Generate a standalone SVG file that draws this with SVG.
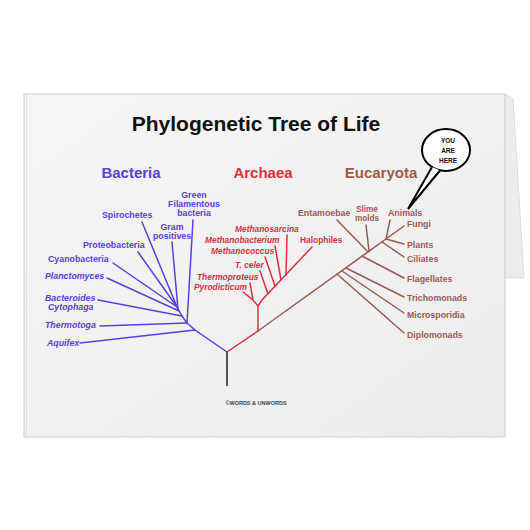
<svg xmlns="http://www.w3.org/2000/svg" width="530" height="530" viewBox="0 0 530 530">
<style>
text{font-family:"Liberation Sans",Arial,sans-serif;font-weight:bold}
.b{fill:#5a40e0;font-size:8.8px}
.r{fill:#e0303f;font-size:8.4px;font-style:italic}
.rn{fill:#e0303f;font-size:8.4px}
.e{fill:#9c5a55;font-size:8.8px}
.s{font-size:8.2px}
.i{font-style:italic}
.c{text-anchor:middle}
.lb{stroke:#5a40e0;stroke-width:1.5;fill:none;stroke-linecap:round}
.lr{stroke:#e0303f;stroke-width:1.5;fill:none;stroke-linecap:round}
.le{stroke:#9c5a55;stroke-width:1.5;fill:none;stroke-linecap:round}
</style>
<defs>
<linearGradient id="card" x1="0" y1="0" x2="1" y2="1">
<stop offset="0" stop-color="#f6f6f6"/>
<stop offset="1" stop-color="#ededed"/>
</linearGradient>
</defs>
<rect width="530" height="530" fill="#ffffff"/>
<polygon points="505,94 513,99 524,278 505,278" fill="#ececec" stroke="#dcdcdc" stroke-width="1"/>
<rect x="24" y="94" width="481" height="343" fill="url(#card)" stroke="#cbcbcb" stroke-width="1"/>
<line x1="26.5" y1="95" x2="26.5" y2="436" stroke="#e2e2e2" stroke-width="1"/>

<text x="256" y="131" font-size="21" class="c" fill="#111">Phylogenetic Tree of Life</text>
<text x="131" y="178" font-size="15" class="c" fill="#5a40e0">Bacteria</text>
<text x="263" y="178" font-size="15" class="c" fill="#e0303f">Archaea</text>
<text x="381" y="178" font-size="15" class="c" fill="#9c5a55">Eucaryota</text>

<g id="connectors">
<line x1="227" y1="352" x2="227" y2="386" stroke="#222" stroke-width="1.5"/>
<polyline class="lb" points="227,352 195,330 187,323 182,316 177,307"/>
<line class="lb" x1="195" y1="330" x2="80" y2="343"/>
<line class="lb" x1="187" y1="323" x2="100" y2="326"/>
<line class="lb" x1="187" y1="323" x2="193" y2="220"/>
<line class="lb" x1="182" y1="316" x2="98" y2="300"/>
<line class="lb" x1="179" y1="311" x2="107" y2="278"/>
<line class="lb" x1="177" y1="307" x2="113" y2="263"/>
<line class="lb" x1="177" y1="307" x2="138" y2="252"/>
<line class="lb" x1="177" y1="307" x2="142" y2="222"/>
<line class="lb" x1="178" y1="309" x2="172" y2="242"/>

<line class="lr" x1="227" y1="352" x2="258" y2="331"/>
<line class="lr" x1="258" y1="331" x2="258" y2="306"/>
<polyline class="lr" points="258,306 253,300 243,292"/>
<line class="lr" x1="253" y1="300" x2="250" y2="283"/>
<polyline class="lr" points="258,306 262,300 312,247"/>
<line class="lr" x1="268" y1="294" x2="260" y2="271"/>
<line class="lr" x1="275" y1="286" x2="265" y2="257"/>
<line class="lr" x1="281" y1="280" x2="275" y2="246"/>
<line class="lr" x1="286" y1="275" x2="287" y2="235"/>

<line class="le" x1="258" y1="331" x2="404" y2="226"/>
<line class="le" x1="337" y1="274" x2="404" y2="333"/>
<line class="le" x1="342" y1="271" x2="404" y2="313"/>
<line class="le" x1="346" y1="268" x2="404" y2="297"/>
<line class="le" x1="362" y1="256" x2="404" y2="278"/>
<line class="le" x1="368" y1="252" x2="337" y2="220"/>
<line class="le" x1="369" y1="251" x2="366" y2="225"/>
<line class="le" x1="382" y1="242" x2="404" y2="257"/>
<line class="le" x1="386" y1="239" x2="404" y2="244"/>
<line class="le" x1="386" y1="239" x2="390" y2="220"/>
</g>

<g id="green-filamentous"><text class="b c" x="194" y="198">Green</text><text class="b c" x="194" y="207">Filamentous</text><text class="b c" x="194" y="216">bacteria</text></g>
<g id="spirochetes"><text class="b" x="102" y="218">Spirochetes</text></g>
<g id="gram-positives"><text class="b c" x="172" y="230">Gram</text><text class="b c" x="172" y="239">positives</text></g>
<g id="proteobacteria"><text class="b" x="83" y="248">Proteobacteria</text></g>
<g id="cyanobacteria"><text class="b" x="48" y="262">Cyanobacteria</text></g>
<g id="planctomyces"><text class="b i" x="45" y="279">Planctomyces</text></g>
<g id="bacteroides"><text class="b i" x="45" y="301">Bacteroides</text><text class="b i" x="48" y="310">Cytophaga</text></g>
<g id="thermotoga"><text class="b i" x="45" y="328">Thermotoga</text></g>
<g id="aquifex"><text class="b i" x="47" y="346">Aquifex</text></g>

<g id="methanosarcina"><text class="r" x="235" y="232">Methanosarcina</text></g>
<g id="methanobacterium"><text class="r" x="205" y="243">Methanobacterium</text></g>
<g id="methanococcus"><text class="r" x="211" y="254">Methanococcus</text></g>
<g id="t-celer"><text class="r" x="235" y="268">T. celer</text></g>
<g id="thermoproteus"><text class="r" x="197" y="280">Thermoproteus</text></g>
<g id="pyrodicticum"><text class="r" x="194" y="290">Pyrodicticum</text></g>
<g id="halophiles"><text class="rn" x="300" y="243">Halophiles</text></g>

<g id="entamoebae"><text class="e" x="298" y="216">Entamoebae</text></g>
<g id="slime-molds"><text class="e s c" x="367" y="211.5">Slime</text><text class="e s c" x="367" y="221">molds</text></g>
<g id="animals"><text class="e" x="388" y="216">Animals</text></g>
<g id="fungi"><text class="e" x="407" y="227">Fungi</text></g>
<g id="plants"><text class="e" x="407" y="248">Plants</text></g>
<g id="ciliates"><text class="e" x="407" y="262">Ciliates</text></g>
<g id="flagellates"><text class="e" x="407" y="282">Flagellates</text></g>
<g id="trichomonads"><text class="e" x="407" y="301">Trichomonads</text></g>
<g id="microsporidia"><text class="e" x="407" y="318">Microsporidia</text></g>
<g id="diplomonads"><text class="e" x="407" y="338">Diplomonads</text></g>

<g id="you-are-here">
<ellipse cx="446" cy="150" rx="24" ry="21" fill="#ffffff" stroke="#000" stroke-width="2"/>
<path d="M432,167 L408,209 L440,170.5" fill="#ffffff" stroke="#000" stroke-width="2" stroke-linejoin="miter"/>
<text x="448" y="143" font-size="6.5" class="c" fill="#111">YOU</text>
<text x="448" y="153" font-size="6.5" class="c" fill="#111">ARE</text>
<text x="448" y="163" font-size="6.5" class="c" fill="#111">HERE</text>
</g>

<text x="256" y="405" font-size="5.5" class="c" fill="#444">©WORDS &amp; UNWORDS</text>
</svg>
